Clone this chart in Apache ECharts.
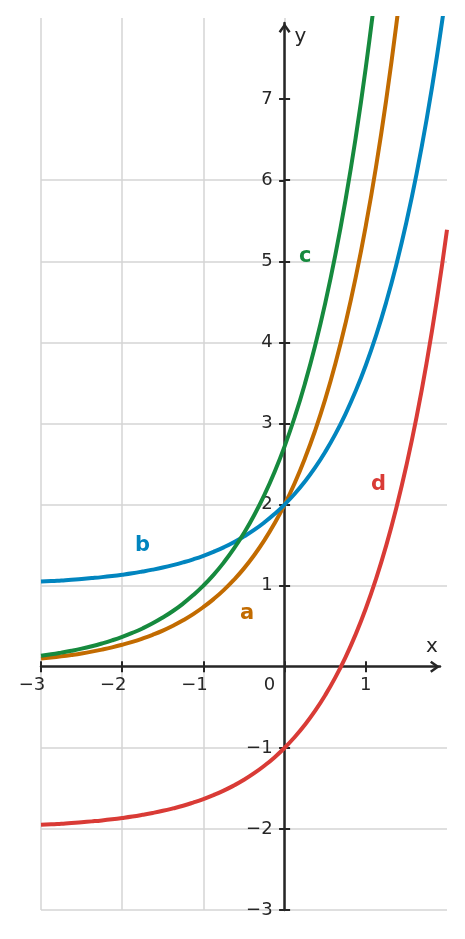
<!DOCTYPE html>
<html><head><meta charset="utf-8">
<script src="https://cdn.jsdelivr.net/npm/echarts@6/dist/echarts.min.js"></script>
<style>html,body{margin:0;padding:0;background:#fff}#c{width:465px;height:939px}</style>
</head><body><div id="c"></div>
<script>
// ---- data ----
const xValues = [-3, -2.875, -2.75, -2.625, -2.5, -2.375, -2.25, -2.125, -2, -1.875, -1.75, -1.625, -1.5, -1.375, -1.25, -1.125, -1, -0.875, -0.75, -0.625, -0.5, -0.375, -0.25, -0.125, 0, 0.125, 0.25, 0.375, 0.5, 0.625, 0.75, 0.875, 1, 1.125, 1.25, 1.375, 1.5, 1.625, 1.75, 1.875, 2];
const aValues = [0.100, 0.113, 0.128, 0.145, 0.164, 0.186, 0.211, 0.239, 0.271, 0.307, 0.348, 0.394, 0.446, 0.506, 0.573, 0.649, 0.736, 0.834, 0.945, 1.071, 1.213, 1.375, 1.558, 1.765, 2.000, 2.266, 2.568, 2.910, 3.297, 3.736, 4.234, 4.798, 5.437, 6.160, 6.981, 7.910, 8.963, 10.157, 11.509, 13.042, 14.778];
const bValues = [1.050, 1.056, 1.064, 1.072, 1.082, 1.093, 1.105, 1.119, 1.135, 1.153, 1.174, 1.197, 1.223, 1.253, 1.287, 1.325, 1.368, 1.417, 1.472, 1.535, 1.607, 1.687, 1.779, 1.883, 2.000, 2.133, 2.284, 2.455, 2.649, 2.868, 3.117, 3.399, 3.718, 4.080, 4.490, 4.955, 5.482, 6.078, 6.755, 7.521, 8.389];
const cValues = [0.135, 0.153, 0.174, 0.197, 0.223, 0.253, 0.287, 0.325, 0.368, 0.417, 0.472, 0.535, 0.607, 0.687, 0.779, 0.883, 1.000, 1.133, 1.284, 1.455, 1.649, 1.868, 2.117, 2.399, 2.718, 3.080, 3.490, 3.955, 4.482, 5.078, 5.755, 6.521, 7.389, 8.373, 9.488, 10.751, 12.182, 13.804, 15.643, 17.725, 20.086];
const dValues = [-1.950, -1.944, -1.936, -1.928, -1.918, -1.907, -1.895, -1.881, -1.865, -1.847, -1.826, -1.803, -1.777, -1.747, -1.714, -1.675, -1.632, -1.583, -1.528, -1.465, -1.394, -1.313, -1.221, -1.118, -1.000, -0.867, -0.716, -0.545, -0.351, -0.132, 0.117, 0.399, 0.718, 1.080, 1.490, 1.955, 2.482, 3.078, 3.755, 4.521, 5.389];
const seriesNames = ['a', 'b', 'c', 'd'];
const xTickValues = [-3, -2, -1, 0, 1];
const yTickValues = [-3, -2, -1, 1, 2, 3, 4, 5, 6, 7];
const xTickLabels = ['\u22123', '\u22122', '\u22121', '0', '1'];
const yTickLabels = ['\u22123', '\u22122', '\u22121', '1', '2', '3', '4', '5', '6', '7'];

// ---- styling ----
const FONT = 'DejaVu Sans';
const INK = '#262626';
const GRIDC = '#d4d4d4';
const colors = { a: '#c26b00', b: '#0185bf', c: '#168a3e', d: '#d93b36' };
const labelIdx = { a: 20, b: 10, c: 28, d: 36 };
const labelOffset = { a: [3, 45], b: [0, -26], c: [-20, -47], d: [-28, 19] };
const arrowPath = 'path://M6,0 L12,8.5 L9.96,9.94 L6,4.3 L2.04,9.94 L0,8.5 Z';
// pixel distance from grid edge to the zero line (axes cross at the origin)
const X_AXIS_SHIFT = -243.3;
const Y_AXIS_SHIFT = -243.6;

const valuesByName = { a: aValues, b: bValues, c: cValues, d: dValues };

function makeSeries(name) {
  const ys = valuesByName[name];
  const color = colors[name];
  const data = xValues.map((x, i) => {
    const item = { value: [x, ys[i]] };
    if (i === labelIdx[name]) {
      item.label = {
        show: true, formatter: name, position: 'inside', offset: labelOffset[name],
        color: color, fontSize: 21, fontWeight: 'bold', fontFamily: FONT
      };
    }
    return item;
  });
  return {
    type: 'line', name: name, data: data, xAxisIndex: 0, yAxisIndex: 0,
    smooth: true, showSymbol: true, showAllSymbol: true, symbol: 'circle', symbolSize: 0,
    lineStyle: { color: color, width: 4 }, itemStyle: { color: color },
    clip: true, z: 5, silent: true, emphasis: { disabled: true }
  };
}

const tickStyle = { color: INK, width: 2 };
const labelFont = { fontSize: 18, color: INK, fontFamily: FONT };

function xLabelFmt(v) {
  const i = xTickValues.indexOf(v);
  const t = i >= 0 ? xTickLabels[i] : String(v);
  if (v < 0) return t + '{s18| }';
  if (v === 0) return t + '{s30| }';
  return t;
}
function yLabelFmt(v) {
  const i = yTickValues.indexOf(v);
  return i >= 0 ? yTickLabels[i] : String(v);
}

const option = {
  animation: false,
  backgroundColor: '#ffffff',
  grid: [
    { left: 41, right: 18, top: 18, bottom: 29, outerBoundsMode: 'none' },
    { left: 41, right: 25, top: 23, bottom: 29, outerBoundsMode: 'none' }
  ],
  xAxis: [
    {
      gridIndex: 0, type: 'value', min: -3, max: 2, interval: 1, position: 'bottom', offset: X_AXIS_SHIFT,
      axisLine: { show: false, onZero: false },
      axisTick: { show: true, inside: true, length: 5.5, customValues: xTickValues, lineStyle: tickStyle },
      axisLabel: { show: false },
      splitLine: { show: true, showMaxLine: false, lineStyle: { color: GRIDC, width: 1.5 } }
    },
    {
      gridIndex: 1, type: 'value', min: -3, max: 1.914, position: 'bottom', offset: X_AXIS_SHIFT,
      axisLine: { show: true, onZero: false, symbol: ['none', arrowPath], symbolSize: [12, 10], symbolOffset: [0, -5], lineStyle: { color: INK, width: 2.5 } },
      axisTick: { show: true, inside: false, length: 5.5, customValues: xTickValues, lineStyle: tickStyle },
      axisLabel: Object.assign({ show: true, customValues: xTickValues, margin: 10, formatter: xLabelFmt, rich: { s18: { width: 18 }, s30: { width: 30 } } }, labelFont),
      splitLine: { show: false },
      name: 'x', nameLocation: 'end', nameGap: -8,
      nameTextStyle: { fontSize: 20, color: INK, fontFamily: FONT, align: 'center', verticalAlign: 'bottom', padding: [0, 0, 10, 0] }
    }
  ],
  yAxis: [
    {
      gridIndex: 0, type: 'value', min: -3, max: 8, interval: 1, position: 'left', offset: Y_AXIS_SHIFT,
      axisLine: { show: false, onZero: false },
      axisTick: { show: true, inside: true, length: 5.5, customValues: yTickValues, lineStyle: tickStyle },
      axisLabel: { show: false },
      splitLine: { show: true, showMaxLine: false, lineStyle: { color: GRIDC, width: 1.5 } }
    },
    {
      gridIndex: 1, type: 'value', min: -3, max: 7.94, position: 'left', offset: Y_AXIS_SHIFT,
      axisLine: { show: true, onZero: false, symbol: ['none', arrowPath], symbolSize: [12, 10], symbolOffset: [0, -5], lineStyle: { color: INK, width: 2.5 } },
      axisTick: { show: true, inside: false, length: 5.5, customValues: yTickValues, lineStyle: tickStyle },
      axisLabel: Object.assign({ show: true, customValues: yTickValues, margin: 12, formatter: yLabelFmt }, labelFont),
      splitLine: { show: false },
      name: 'y', nameLocation: 'end', nameGap: -4,
      nameTextStyle: { fontSize: 20, color: INK, fontFamily: FONT, align: 'left', verticalAlign: 'top', padding: [0, 0, 0, 10] }
    }
  ],
  series: seriesNames.map(makeSeries)
};

const chart = echarts.init(document.getElementById('c'), null, { renderer: 'canvas' });
chart.setOption(option);
</script>
</body></html>
